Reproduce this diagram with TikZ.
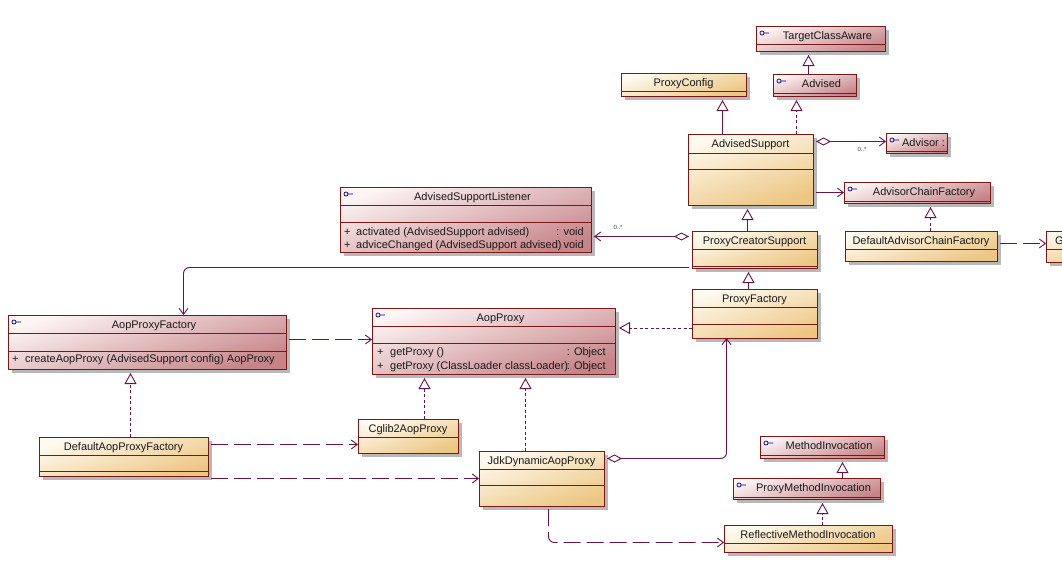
\documentclass[tikz,border=0pt]{standalone}
\usepackage{fontspec}
\setmainfont{Liberation Sans}
\usepackage{xcolor}
\usetikzlibrary{arrows.meta,shadows}
\definecolor{cedge}{RGB}{122,24,24}
\definecolor{cline}{RGB}{100,20,70}
\definecolor{clsA}{RGB}{255,250,240}
\definecolor{clsB}{RGB}{236,198,130}
\definecolor{ifcA}{RGB}{253,244,244}
\definecolor{ifcB}{RGB}{198,132,136}
\tikzset{
  box/.style ={draw=cedge,line width=0.9pt,anchor=north west,outer sep=0pt,inner xsep=0pt,inner ysep=3pt,
               text height=10pt,font=\fontsize{11}{13}\selectfont,text=black!90,
               drop shadow={shadow xshift=4pt,shadow yshift=-4pt,fill=black!28,opacity=1}},
  cls/.style ={box,top color=clsA,bottom color=clsB,shading angle=18},
  ifc/.style ={box,top color=ifcA,bottom color=ifcB,shading angle=18,execute at begin node=\hspace*{14pt},
               path picture={\draw[blue!50!black,line width=0.7pt] ([shift={(6,7)}]path picture bounding box.north west) circle (2pt)
                 ++(2,0) -- ++(5,0);}},
  mth/.style ={anchor=base west,inner sep=0pt,font=\fontsize{11}{13}\selectfont,text=black!90},
  mthr/.style={mth,anchor=base east},
  mult/.style={inner sep=0pt,font=\fontsize{6}{7}\selectfont,text=black!75},
  cut/.style ={cedge,line width=0.9pt},
  gen/.style ={cline,line width=0.9pt,-{Triangle[open,length=11pt,width=12pt,fill=white]},shorten >=4pt},
  rea/.style ={gen,dash pattern=on 3pt off 2.5pt},
  dep/.style ={cline,line width=0.9pt,dash pattern=on 17pt off 6pt,-{Straight Barb[length=6pt,width=9pt]},shorten <=3pt},
  ass/.style ={cline,line width=0.9pt,-{Straight Barb[length=6pt,width=9pt]},shorten <=3pt},
  agg/.style ={cline,line width=0.9pt,{Diamond[open,length=15pt,width=8pt,fill=white]}-{Straight Barb[length=6pt,width=9pt]},shorten <=3pt},
}

\begin{document}
\begin{tikzpicture}[x=1pt,y=-1pt]
  \useasboundingbox (0,0) rectangle (1062,562);
  % top right
  \node[ifc,minimum width=129pt,text depth=9pt]  (tca)  at (756,26)  {TargetClassAware};
  \node[ifc,minimum width=83pt,text depth=6pt]   (adv)  at (773,74)  {Advised};
  \node[cls,minimum width=125pt,text depth=7pt]  (pcf)  at (621,73)  {ProxyConfig};
  \node[cls,minimum width=125pt,text depth=55pt] (as)   at (688,134) {AdvisedSupport};
  \node[ifc,minimum width=61pt,text depth=4pt]   (ador) at (886,133) {Advisor :};
  \node[ifc,minimum width=146pt,text depth=5pt]  (acf)  at (844,182) {AdvisorChainFactory};
  \node[cls,minimum width=152pt,text depth=14pt] (dacf) at (845,231) {DefaultAdvisorChainFactory};
  \node[cls,minimum width=125pt,text depth=21pt] (pcs)  at (692,231) {ProxyCreatorSupport};
  \node[cls,text width=51pt,inner xsep=9pt,align=left,text depth=15pt] (gcf) at (1046,231) {G};
  \node[cls,minimum width=125pt,text depth=33pt] (pf)   at (692,289) {ProxyFactory};
  % middle
  \node[ifc,minimum width=251pt,text depth=49pt] (lsn)  at (340,187) {AdvisedSupportListener};
  \node[ifc,minimum width=278pt,text depth=38pt] (apf)  at (8,315)   {AopProxyFactory};
  \node[ifc,minimum width=243pt,text depth=50pt] (ap)   at (372,308) {AopProxy};
  % bottom
  \node[cls,minimum width=169pt,text depth=23pt] (dapf) at (39,437)  {DefaultAopProxyFactory};
  \node[cls,minimum width=100pt,text depth=18pt] (cg)   at (358,419) {Cglib2AopProxy};
  \node[cls,minimum width=125pt,text depth=39pt] (jdk)  at (479,451) {JdkDynamicAopProxy};
  \node[ifc,minimum width=124pt,text depth=6pt]  (mi)   at (760,436) {MethodInvocation};
  \node[ifc,minimum width=147pt,text depth=5pt]  (pmi)  at (733,478) {ProxyMethodInvocation};
  \node[cls,minimum width=168pt,text depth=11pt] (rmi)  at (724,525) {ReflectiveMethodInvocation};
  % compartments
  \foreach \n/\d in {tca/18,adv/19,pcf/18,as/19,as/35,ador/18,acf/19,dacf/18,pcs/18,pcs/35,gcf/18,pf/18,pf/35,
                     lsn/18,lsn/35,apf/18,apf/36,ap/18,ap/35,dapf/18,dapf/34,cg/18,jdk/18,jdk/34,mi/19,pmi/19,rmi/18}
    \draw[cut] ([yshift=-\d pt]\n.north west) -- ([yshift=-\d pt]\n.north east);
  % operations
  \node[mth]  (lsnp1) at (344,235) {+};
  \node[mth]  (lsnm1) at (356,235) {activated (AdvisedSupport advised)};
  \node[mthr] (lsnt1) at (584,235) {: void};
  \node[mth]  (lsnp2) at (344,248) {+};
  \node[mth]  (lsnm2) at (356,248) {adviceChanged (AdvisedSupport advised)};
  \node[mthr] (lsnt2) at (584,248) {void};
  \node[mth]  (apfp)  at (12,362)  {+};
  \node[mth]  (apfm)  at (25,362)  {createAopProxy (AdvisedSupport config) AopProxy};
  \node[mth]  (app1)  at (377,355) {+};
  \node[mth]  (apm1)  at (390,355) {getProxy ()};
  \node[mthr] (apt1)  at (606,355) {: Object};
  \node[mth]  (app2)  at (377,369) {+};
  \node[mth]  (apm2)  at (390,369) {getProxy (ClassLoader classLoader)};
  \node[mthr] (apt2)  at (606,369) {: Object};
  % inheritance, solid and dashed
  \draw[gen] ([xshift=-6pt]adv.north) -- ([xshift=-12pt]tca.south);
  \draw[gen] ([xshift=-28pt]as.north) -- ([xshift=39pt]pcf.south);
  \draw[rea] ([xshift=46pt]as.north) -- ([xshift=-18pt]adv.south);
  \draw[gen] ([xshift=-7pt]pcs.north) -- ([xshift=-3pt]as.south);
  \draw[rea] ([xshift=9.5pt]dacf.north) -- ([xshift=13.5pt]acf.south);
  \draw[gen] ([xshift=-6pt]pf.north) -- ([xshift=-6pt]pcs.south);
  \draw[rea] ([yshift=-14.5pt]pf.west) -- ([yshift=13pt]ap.east);
  \draw[rea] ([xshift=7pt]dapf.north) -- ([xshift=-16.5pt]apf.south);
  \draw[rea] ([xshift=16.5pt]cg.north) -- ([xshift=-69pt]ap.south);
  \draw[rea] ([xshift=-16pt]jdk.north) -- ([xshift=32pt]ap.south);
  \draw[gen] ([xshift=36pt]pmi.north) -- ([xshift=20.5pt]mi.south);
  \draw[rea] ([xshift=14.5pt]rmi.north) -- ([xshift=16pt]pmi.south);
  % associations
  \draw[agg] ([yshift=28pt]as.east) -- ([yshift=1.5pt]ador.west);
  \node[mult] (m1) at (862,149) {0..*};
  \draw[ass] ([yshift=-23pt]as.east) -- (acf.west);
  \draw[agg] ([yshift=13pt]pcs.west) -- ([yshift=-17pt,xshift=3pt]lsn.east);
  \node[mult] (m2) at (618,227) {0..*};
  \draw[ass,rounded corners=6pt] ([yshift=-18pt]pcs.west) -| ([xshift=36.5pt]apf.north);
  \draw[agg,rounded corners=6pt] ([yshift=20pt]jdk.east) -| ([xshift=-28pt]pf.south);
  % dependencies
  \draw[dep] ([yshift=2.5pt]dacf.east) -- ([yshift=3pt]gcf.west);
  \draw[dep] ([yshift=2.5pt]apf.east) -- ([yshift=1.5pt]ap.west);
  \draw[dep] ([yshift=12pt]dapf.east) -- ([yshift=-8.5pt]cg.west);
  \draw[dep] ([yshift=-22pt]dapf.east) -- (jdk.west);
  \draw[dep,rounded corners=6pt] ([xshift=7pt]jdk.south) |- ([yshift=-4pt]rmi.west);
\end{tikzpicture}
\end{document}
